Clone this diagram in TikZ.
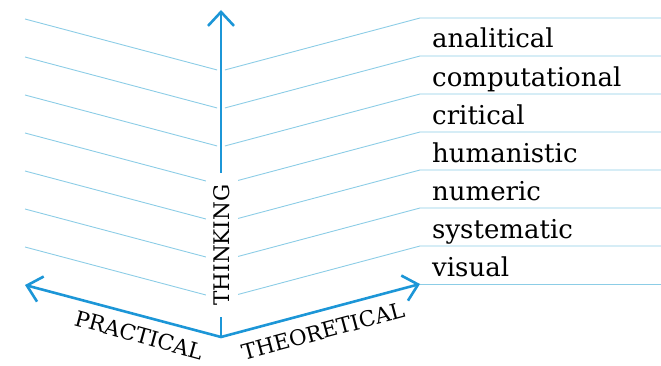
\documentclass[tikz,border=0pt]{standalone}
\usepackage{fontspec}
\setmainfont{DejaVu Serif}
\usepackage{tikz}
\usetikzlibrary{arrows.meta,positioning,calc}
\definecolor{axisblue}{RGB}{28,150,215}
\definecolor{ruleblue}{RGB}{140,205,230}

\begin{document}
\begin{tikzpicture}[
    x=1pt, y=1pt,
    barb/.tip={Straight Barb[length=14pt,width=26pt]},
    axis/.style={axisblue, line width=2.6pt, line join=round},
    rule/.style={ruleblue, line width=0.9pt},
    kind/.style={anchor=base west, inner sep=0pt, font=\fontsize{26}{26}\selectfont},
    dim/.style={font=\fontsize{21.5}{21.5}\selectfont},
]
    \useasboundingbox (0,0) rectangle (661,365);

    \coordinate (apex)  at (221,28);
    \coordinate (up)    at (221,355);
    \coordinate (left)  at (25,80);
    \coordinate (right) at (420,81);
    \def\gap{38}

    % ruled lines: one V per step, the right arm runs out flat
    \draw [rule] (right) -- ++(250,0);
    \foreach \k in {1,...,7} {
        \draw [rule] ($(left)+(0,\k*\gap)$) -- ($(left)!0.98!(apex)+(0,\k*\gap)$);
        \draw [rule] ($(apex)!0.02!(right)+(0,\k*\gap)$) -- ($(right)+(0,\k*\gap)$) -- ++(250,0);
    }

    \draw [axis, barb-barb] (left) -- (apex) -- (right);
    \draw [axis, -barb] (apex) -- (up);

    \node [dim, rotate=90, fill=white, inner xsep=11.5pt, inner ysep=7.5pt] (thinking) at (222,120) {THINKING};
    \node [dim, rotate=-15.3] (practical) at (139,30) {PRACTICAL};
    \node [dim, rotate=15] (theoretical) at (323,34) {THEORETICAL};

    \node [kind] (analitical)    at (432,317) {analitical};
    \node [kind] (computational) at (432,279) {computational};
    \node [kind] (critical)      at (432,241) {critical};
    \node [kind] (humanistic)    at (432,203) {humanistic};
    \node [kind] (numeric)       at (432,165) {numeric};
    \node [kind] (systematic)    at (432,127) {systematic};
    \node [kind] (visual)        at (432,89)  {visual};
\end{tikzpicture}
\end{document}
